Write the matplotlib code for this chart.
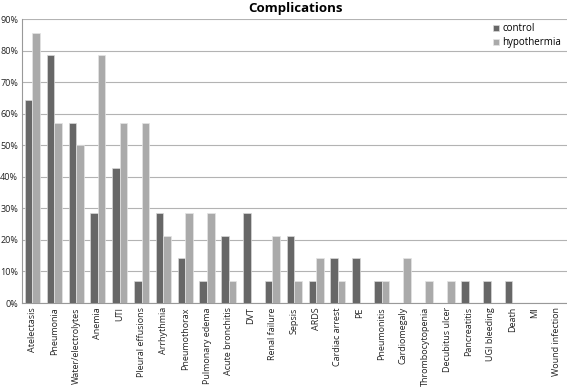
import numpy as np
import matplotlib
matplotlib.use("Agg")
import matplotlib.pyplot as plt
from matplotlib.ticker import PercentFormatter

plt.rcParams['font.family'] = ['Open Sans', 'DejaVu Sans']

# categories and values (%) (n=14 per group)
categories = ['Atelectasis', 'Pneumonia', 'Water/electrolytes', 'Anemia', 'UTI',
              'Pleural effusions', 'Arrhythmia', 'Pneumothorax', 'Pulmonary edema',
              'Acute bronchitis', 'DVT', 'Renal failure', 'Sepsis', 'ARDS',
              'Cardiac arrest', 'PE', 'Pneumonitis', 'Cardiomegaly',
              'Thrombocytopenia', 'Decubitus ulcer', 'Pancreatitis', 'UGI bleeding',
              'Death', 'MI', 'Wound infection']
control = [64.3, 78.6, 57.1, 28.6, 42.9, 7.1, 28.6, 14.3, 7.1, 21.4, 28.6, 7.1, 21.4,
           7.1, 14.3, 14.3, 7.1, 0, 0, 0, 7.1, 7.1, 7.1, 0, 0]
hypothermia = [85.7, 57.1, 50.0, 78.6, 57.1, 57.1, 21.4, 28.6, 28.6, 7.1, 0, 21.4, 7.1,
               14.3, 7.1, 0, 7.1, 14.3, 7.1, 7.1, 0, 0, 0, 0, 0]

fig = plt.figure(figsize=(5.67, 3.89), dpi=100)
ax = fig.add_axes([0.038, 0.221, 0.962, 0.730])

x = np.arange(len(categories))
w = 0.345
ax.bar(x - w / 2, control, w, color='#676767', edgecolor='#d8d8d8', linewidth=0.5,
       label='control', zorder=3)
ax.bar(x + w / 2, hypothermia, w, color='#aaaaaa', edgecolor='#e4e4e4', linewidth=0.5,
       label='hypothermia', zorder=3)

ax.set_xlim(-0.5, len(categories) - 0.5)
ax.set_ylim(0, 90)
ax.set_yticks(np.arange(0, 91, 10))
ax.yaxis.set_major_formatter(PercentFormatter(decimals=0))
ax.grid(axis='y', color='#b3b3b3', linewidth=0.8, zorder=0)

ax.set_xticks(x)
ax.set_xticklabels(categories, rotation=90, fontsize=6.5, color='#222222')
ax.tick_params(axis='x', length=0, pad=3)
ax.tick_params(axis='y', length=0, labelsize=6.5, pad=2.5, labelcolor='#222222')

for s in ['top', 'right']:
    ax.spines[s].set_visible(False)
ax.spines['left'].set_color('#999999')
ax.spines['bottom'].set_color('#999999')

fig.text(0.521, 0.977, 'Complications', ha='center', va='center', fontsize=9.5,
         fontweight='bold')

ax.legend(loc='upper right', bbox_to_anchor=(1.0, 1.005), frameon=False, fontsize=7,
          handlelength=0.7, handleheight=0.7, handletextpad=0.3, labelspacing=0.3,
          borderaxespad=0.2)

fig.savefig('out.png', dpi=100)
